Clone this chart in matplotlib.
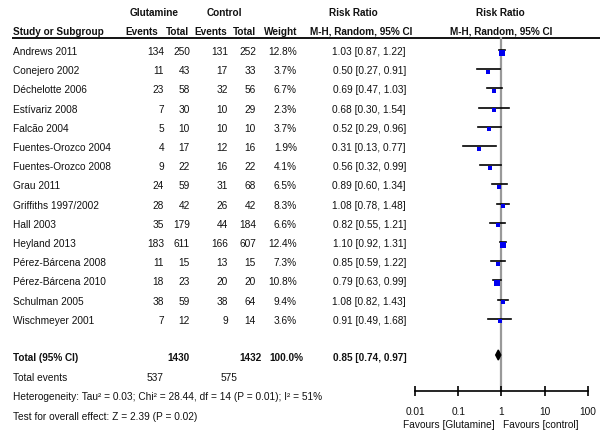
import matplotlib
matplotlib.use('Agg')
import matplotlib.pyplot as plt

# study level data
studies = ['Andrews 2011', 'Conejero 2002', 'Déchelotte 2006', 'Estívariz 2008',
           'Falcão 2004', 'Fuentes-Orozco 2004', 'Fuentes-Orozco 2008', 'Grau 2011',
           'Griffiths 1997/2002', 'Hall 2003', 'Heyland 2013', 'Pérez-Bárcena 2008',
           'Pérez-Bárcena 2010', 'Schulman 2005', 'Wischmeyer 2001']
glu_events = [134, 11, 23, 7, 5, 4, 9, 24, 28, 35, 183, 11, 18, 38, 7]
glu_total = [250, 43, 58, 30, 10, 17, 22, 59, 42, 179, 611, 15, 23, 59, 12]
ctl_events = [131, 17, 32, 10, 10, 12, 16, 31, 26, 44, 166, 13, 20, 38, 9]
ctl_total = [252, 33, 56, 29, 10, 16, 22, 68, 42, 184, 607, 15, 20, 64, 14]
weights = [12.8, 3.7, 6.7, 2.3, 3.7, 1.9, 4.1, 6.5, 8.3, 6.6, 12.4, 7.3, 10.8, 9.4, 3.6]
rr = [1.03, 0.50, 0.69, 0.68, 0.52, 0.31, 0.56, 0.89, 1.08, 0.82, 1.10, 0.85, 0.79, 1.08, 0.91]
rr_lo = [0.87, 0.27, 0.47, 0.30, 0.29, 0.13, 0.32, 0.60, 0.78, 0.55, 0.92, 0.59, 0.63, 0.82, 0.49]
rr_hi = [1.22, 0.91, 1.03, 1.54, 0.96, 0.77, 0.99, 1.34, 1.48, 1.21, 1.31, 1.22, 0.99, 1.43, 1.68]

total_glu, total_ctl = 1430, 1432
total_weight = 100.0
events_glu, events_ctl = 537, 575
pooled, pooled_lo, pooled_hi = 0.85, 0.74, 0.97
heterogeneity = 'Heterogeneity: Tau² = 0.03; Chi² = 28.44, df = 14 (P = 0.01); I² = 51%'
overall = 'Test for overall effect: Z = 2.39 (P = 0.02)'
ticks = [0.01, 0.1, 1, 10, 100]
tick_labels = ['0.01', '0.1', '1', '10', '100']

plt.rcParams['font.family'] = ['Liberation Sans', 'DejaVu Sans']
FS = 7.3
FS_HEAD = 7.2

W, H = 600, 439
fig = plt.figure(figsize=(W / 100, H / 100), dpi=100)
fig.patch.set_facecolor('white')

# table part, drawn in pixel coordinates
ax = fig.add_axes([0, 0, 1, 1])
ax.set_xlim(0, W)
ax.set_ylim(H, 0)
ax.axis('off')

row0, step = 52, 19.2
rows = [row0 + step * i for i in range(len(studies))]

def txt(x, y, s, ha='left', bold=False, size=FS):
    ax.text(x, y, s, ha=ha, va='center', fontsize=size,
            fontweight='bold' if bold else 'normal', color='#111111')

def head(x, y, s, ha='center'):
    txt(x, y, s, ha=ha, bold=True, size=FS_HEAD)

# headers
head(154, 13, 'Glutamine')
head(224, 13, 'Control')
head(353, 13, 'Risk Ratio')
head(500, 13, 'Risk Ratio')
head(13, 32, 'Study or Subgroup', ha='left')
head(158, 32, 'Events', ha='right')
head(189, 32, 'Total', ha='right')
head(227, 32, 'Events', ha='right')
head(256, 32, 'Total', ha='right')
head(297, 32, 'Weight', ha='right')
head(361, 32, 'M-H, Random, 95% CI')
head(501, 32, 'M-H, Random, 95% CI')
ax.hlines(39, 12, W, color='black', lw=1.3)

for i, y in enumerate(rows):
    txt(13, y, studies[i])
    txt(164, y, str(glu_events[i]), ha='right')
    txt(190, y, str(glu_total[i]), ha='right')
    txt(228, y, str(ctl_events[i]), ha='right')
    txt(256, y, str(ctl_total[i]), ha='right')
    txt(297, y, '%.1f%%' % weights[i], ha='right')
    txt(406, y, '%.2f [%.2f, %.2f]' % (rr[i], rr_lo[i], rr_hi[i]), ha='right')

y_tot = 358
txt(13, y_tot, 'Total (95% CI)', bold=True, size=FS_HEAD)
txt(190, y_tot, str(total_glu), ha='right', bold=True, size=FS_HEAD)
txt(262, y_tot, str(total_ctl), ha='right', bold=True, size=FS_HEAD)
txt(303, y_tot, '%.1f%%' % total_weight, ha='right', bold=True, size=FS_HEAD)
txt(407, y_tot, '%.2f [%.2f, %.2f]' % (pooled, pooled_lo, pooled_hi), ha='right',
    bold=True, size=FS_HEAD)
txt(13, 378, 'Total events')
txt(164, 378, str(events_glu), ha='right')
txt(237, 378, str(events_ctl), ha='right')
txt(13, 397, heterogeneity)
txt(13, 417, overall)
txt(495, 425, 'Favours [Glutamine]', ha='right')
txt(503, 425, 'Favours [control]')

# forest part on a log axis
top, bottom = 38, 392
left, right = 415, 587.7
fa = fig.add_axes([left / W, (H - bottom) / H, (right - left) / W, (bottom - top) / H])
fa.set_xscale('log')
fa.set_xlim(0.01, 100)
fa.set_ylim(bottom, top)
fa.patch.set_alpha(0)
for s in ['top', 'left', 'right']:
    fa.spines[s].set_visible(False)
fa.spines['bottom'].set_linewidth(1.2)
fa.set_yticks([])
fa.set_xticks(ticks)
fa.set_xticklabels(tick_labels)
fa.minorticks_off()
fa.tick_params(axis='x', direction='inout', length=7, width=1.2, labelsize=FS, pad=7,
               labelcolor='#111111')

fa.axvline(1, color='#999999', lw=1.6, zorder=1)
for i, y in enumerate(rows):
    fa.plot([rr_lo[i], rr_hi[i]], [y - 1, y - 1], color='black', lw=1.2, zorder=2)
    # square size grows with the study weight
    side = 2.2 + 0.14 * weights[i]
    fa.plot(rr[i], y + 1.5, marker='s', color='#0000ee', markersize=side, mew=0, zorder=3)

dy = 5
fa.fill([pooled_lo, pooled, pooled_hi, pooled], [356, 356 - dy, 356, 356 + dy],
        color='black', zorder=3)

fig.savefig('out.png', dpi=100)
